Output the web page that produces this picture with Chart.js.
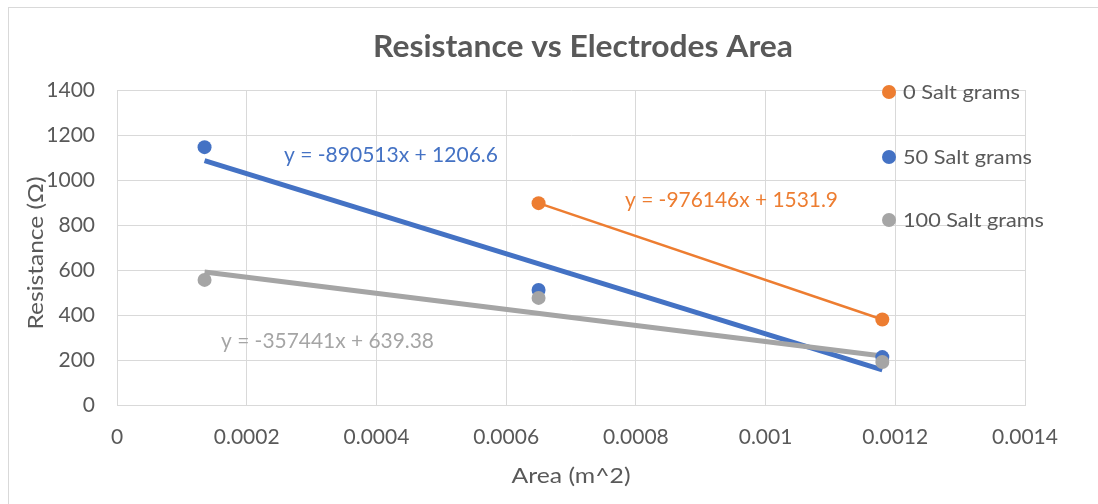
<!DOCTYPE html>
<html>
<head>
<meta charset="utf-8">
<script src="https://cdn.jsdelivr.net/npm/chart.js@4.4.1/dist/chart.umd.min.js"></script>
<style>
  html, body { margin: 0; padding: 0; background: #ffffff; }
  canvas { display: block; }
</style>
</head>
<body>
<canvas id="c" width="1098" height="504"></canvas>
<script>
// ---------- data ----------
const chartTitle = 'Resistance vs Electrodes Area';
const xAxisTitle = 'Area (m^2)';
const yAxisTitle = 'Resistance (\u03A9)';
const seriesNames = ['0 Salt grams', '50 Salt grams', '100 Salt grams'];
const areas = [0.000135, 0.00065, 0.00118];
const salt0 = [null, 897, 380];
const salt50 = [1146, 511, 213];
const salt100 = [556, 476, 191];
const trendSlopes = [-976146, -890513, -357441];
const trendIntercepts = [1531.9, 1206.6, 639.38];
const trendLabels = ['y = -976146x + 1531.9', 'y = -890513x + 1206.6', 'y = -357441x + 639.38'];
const xTickValues = [0, 0.0002, 0.0004, 0.0006, 0.0008, 0.001, 0.0012, 0.0014];
const xTickLabels = ['0', '0.0002', '0.0004', '0.0006', '0.0008', '0.001', '0.0012', '0.0014'];
const yTickValues = [0, 200, 400, 600, 800, 1000, 1200, 1400];
const yTickLabels = ['0', '200', '400', '600', '800', '1000', '1200', '1400'];

// ---------- styling ----------
const colors = ['#ED7D31', '#4472C4', '#A5A5A5'];
const trendWidths = [2.5, 5, 5];
const FONT = 'Lato, "Open Sans", sans-serif';
const TEXT = '#595959';
const GRID = '#d9d9d9';

function pts(vals) {
  const out = [];
  vals.forEach((v, i) => { if (v !== null) out.push({ x: areas[i], y: v }); });
  return out;
}
function trend(k, vals) {
  const xs = areas.filter((a, i) => vals[i] !== null);
  const x0 = Math.min(...xs), x1 = Math.max(...xs);
  return [{ x: x0, y: trendSlopes[k] * x0 + trendIntercepts[k] },
          { x: x1, y: trendSlopes[k] * x1 + trendIntercepts[k] }];
}
const seriesVals = [salt0, salt50, salt100];

const datasets = [];
seriesVals.forEach((vals, k) => {
  datasets.push({
    label: seriesNames[k], data: pts(vals), showLine: false,
    backgroundColor: colors[k], borderColor: colors[k], borderWidth: 0,
    pointRadius: 7, pointHoverRadius: 7, order: 10 - k
  });
  datasets.push({
    label: seriesNames[k] + ' trend', data: trend(k, vals), showLine: true,
    borderColor: colors[k], backgroundColor: colors[k], borderWidth: trendWidths[k],
    pointRadius: 0, fill: false, order: 20 - k, borderCapStyle: 'butt'
  });
});

// draw text compressed horizontally to a target width
function fitText(ctx, text, x, y, targetW, font, color, align) {
  ctx.save();
  ctx.font = font;
  ctx.fillStyle = color;
  const w = ctx.measureText(text).width;
  const sx = targetW / w;
  ctx.translate(x, y);
  ctx.scale(sx, 1);
  ctx.textAlign = align || 'left';
  ctx.textBaseline = 'alphabetic';
  ctx.fillText(text, 0, 0);
  ctx.restore();
}

const decor = {
  id: 'decor',
  beforeDraw(chart) {
    const ctx = chart.ctx;
    ctx.save();
    ctx.fillStyle = '#ffffff';
    ctx.fillRect(0, 0, chart.width, chart.height);
    ctx.strokeStyle = GRID;
    ctx.lineWidth = 1;
    ctx.strokeRect(8.5, 7.5, 1200, 600);
    ctx.restore();
  },
  afterDraw(chart) {
    const ctx = chart.ctx;
    // title
    fitText(ctx, chartTitle, 583, 57, 420, 'bold 30px ' + FONT, TEXT, 'center');
    // axis titles
    fitText(ctx, xAxisTitle, 571, 483, 119, '21px ' + FONT, TEXT, 'center');
    ctx.save();
    ctx.translate(42.5, 253);
    ctx.rotate(-Math.PI / 2);
    fitText(ctx, yAxisTitle, 0, 0, 153, '21px ' + FONT, TEXT, 'center');
    ctx.restore();
    // trendline equations
    fitText(ctx, trendLabels[0], 625, 207, 213, '21px ' + FONT, colors[0], 'left');
    fitText(ctx, trendLabels[1], 284, 162, 214, '21px ' + FONT, colors[1], 'left');
    fitText(ctx, trendLabels[2], 221, 347.5, 213, '21px ' + FONT, colors[2], 'left');
    // legend
    const legY = [92, 157, 220];
    const legW = [117, 129, 141];
    seriesNames.forEach((n, k) => {
      ctx.save();
      ctx.fillStyle = colors[k];
      ctx.beginPath();
      ctx.arc(889, legY[k], 7, 0, Math.PI * 2);
      ctx.fill();
      ctx.restore();
      fitText(ctx, n, 903, legY[k] + 7, legW[k], '20px ' + FONT, TEXT, 'left');
    });
  }
};

new Chart(document.getElementById('c'), {
  type: 'scatter',
  data: { datasets },
  plugins: [decor],
  options: {
    responsive: false,
    animation: false,
    devicePixelRatio: 1,
    layout: { padding: { top: 90, right: 73, left: 0, bottom: 0 } },
    plugins: { legend: { display: false }, title: { display: false }, tooltip: { enabled: false } },
    scales: {
      x: {
        type: 'linear', min: 0, max: 0.0014,
        afterBuildTicks: s => { s.ticks = xTickValues.map(v => ({ value: v })); },
        afterFit: s => { s.height = 99; },
        grid: { color: GRID, lineWidth: 1, drawTicks: false },
        border: { color: GRID, width: 1 },
        ticks: {
          padding: 20, color: TEXT, font: { family: FONT, size: 21 },
          maxRotation: 0, autoSkip: false,
          callback: (v, i) => xTickLabels[i]
        }
      },
      y: {
        type: 'linear', min: 0, max: 1400,
        afterBuildTicks: s => { s.ticks = yTickValues.map(v => ({ value: v })); },
        afterFit: s => { s.width = 117; },
        grid: { color: GRID, lineWidth: 1, drawTicks: false },
        border: { color: GRID, width: 1 },
        ticks: {
          padding: 22, color: TEXT, font: { family: FONT, size: 21 },
          callback: (v, i) => yTickLabels[i]
        }
      }
    }
  }
});
</script>
</body>
</html>
